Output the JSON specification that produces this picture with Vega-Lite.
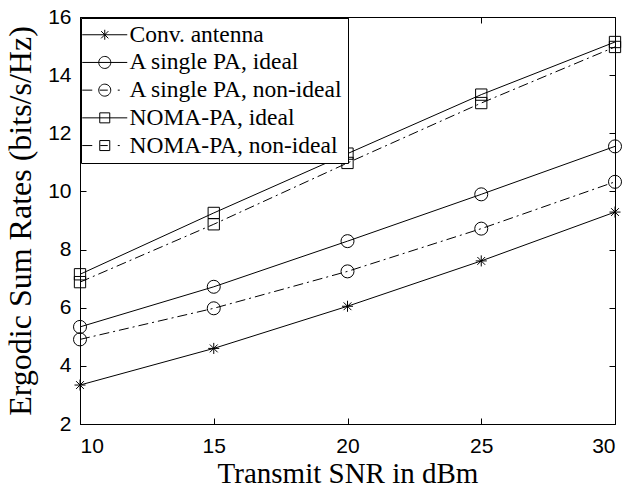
{
  "$schema": "https://vega.github.io/schema/vega-lite/v6.json",
  "width": 535,
  "height": 407,
  "autosize": {"type": "none"},
  "padding": {"left": 80, "top": 17, "right": 22, "bottom": 65},
  "background": "white",
  "config": {
    "view": {"stroke": "black", "strokeWidth": 1},
    "axis": {
      "domainColor": "black",
      "tickColor": "black",
      "labelColor": "black",
      "titleColor": "black",
      "grid": false,
      "labelFont": "Liberation Sans",
      "labelFontSize": 21,
      "titleFont": "Liberation Serif",
      "titleFontSize": 29,
      "titleFontWeight": "normal",
      "tickSize": -6,
      "tickWidth": 1
    }
  },
  "data": {
    "values": [
      {"snr": 10, "rate": 3.34, "series": "Conv. antenna"},
      {"snr": 15, "rate": 4.6, "series": "Conv. antenna"},
      {"snr": 20, "rate": 6.05, "series": "Conv. antenna"},
      {"snr": 25, "rate": 7.61, "series": "Conv. antenna"},
      {"snr": 30, "rate": 9.29, "series": "Conv. antenna"},
      {"snr": 10, "rate": 5.34, "series": "A single PA, ideal"},
      {"snr": 15, "rate": 6.72, "series": "A single PA, ideal"},
      {"snr": 20, "rate": 8.29, "series": "A single PA, ideal"},
      {"snr": 25, "rate": 9.9, "series": "A single PA, ideal"},
      {"snr": 30, "rate": 11.55, "series": "A single PA, ideal"},
      {"snr": 10, "rate": 4.91, "series": "A single PA, non-ideal"},
      {"snr": 15, "rate": 5.98, "series": "A single PA, non-ideal"},
      {"snr": 20, "rate": 7.25, "series": "A single PA, non-ideal"},
      {"snr": 25, "rate": 8.72, "series": "A single PA, non-ideal"},
      {"snr": 30, "rate": 10.33, "series": "A single PA, non-ideal"},
      {"snr": 10, "rate": 7.15, "series": "NOMA-PA, ideal"},
      {"snr": 15, "rate": 9.26, "series": "NOMA-PA, ideal"},
      {"snr": 20, "rate": 11.3, "series": "NOMA-PA, ideal"},
      {"snr": 25, "rate": 13.33, "series": "NOMA-PA, ideal"},
      {"snr": 30, "rate": 15.14, "series": "NOMA-PA, ideal"},
      {"snr": 10, "rate": 6.88, "series": "NOMA-PA, non-ideal"},
      {"snr": 15, "rate": 8.87, "series": "NOMA-PA, non-ideal"},
      {"snr": 20, "rate": 10.98, "series": "NOMA-PA, non-ideal"},
      {"snr": 25, "rate": 13.04, "series": "NOMA-PA, non-ideal"},
      {"snr": 30, "rate": 14.97, "series": "NOMA-PA, non-ideal"}
    ]
  },
  "resolve": {"axis": {"x": "independent", "y": "independent"}},
  "layer": [
    {
      "layer": [
        {
          "transform": [{"filter": "indexof(datum.series, 'non-ideal') < 0"}],
          "mark": {"type": "line", "color": "black", "strokeWidth": 1},
          "encoding": {
            "x": {"field": "snr", "type": "quantitative", "scale": {"domain": [10, 30], "nice": false, "zero": false},
              "axis": {"orient": "bottom", "values": [10, 15, 20, 25, 30], "title": "Transmit SNR in dBm", "labelPadding": 17, "titlePadding": 3}},
            "y": {"field": "rate", "type": "quantitative", "scale": {"domain": [2, 16], "nice": false, "zero": false},
              "axis": {"orient": "left", "values": [2, 4, 6, 8, 10, 12, 14, 16], "title": "Ergodic Sum Rates (bits/s/Hz)", "titleFontSize": 32, "labelPadding": 15, "titlePadding": 10}},
            "detail": {"field": "series"}
          }
        },
        {
          "transform": [{"filter": "indexof(datum.series, 'non-ideal') >= 0"}],
          "mark": {"type": "line", "color": "black", "strokeWidth": 1, "strokeDash": [10, 4, 2, 4]},
          "encoding": {
            "x": {"field": "snr", "type": "quantitative"},
            "y": {"field": "rate", "type": "quantitative"},
            "detail": {"field": "series"}
          }
        },
        {
          "transform": [{"filter": "datum.series === 'Conv. antenna'"}],
          "mark": {"type": "point", "filled": false, "color": "black", "strokeWidth": 1, "opacity": 1, "size": 169,
            "shape": "M-0.85,0L0.85,0M0,-0.85L0,0.85M-0.6,-0.6L0.6,0.6M-0.6,0.6L0.6,-0.6"},
          "encoding": {
            "x": {"field": "snr", "type": "quantitative"},
            "y": {"field": "rate", "type": "quantitative"}
          }
        },
        {
          "transform": [{"filter": "indexof(datum.series, 'single') >= 0"}],
          "mark": {"type": "point", "filled": false, "color": "black", "strokeWidth": 1, "opacity": 1, "size": 169, "shape": "circle"},
          "encoding": {
            "x": {"field": "snr", "type": "quantitative"},
            "y": {"field": "rate", "type": "quantitative"}
          }
        },
        {
          "transform": [{"filter": "indexof(datum.series, 'NOMA') >= 0"}],
          "mark": {"type": "point", "filled": false, "color": "black", "strokeWidth": 1, "opacity": 1, "size": 169,
            "shape": "M-0.87,-0.87L0.87,-0.87L0.87,0.87L-0.87,0.87Z"},
          "encoding": {
            "x": {"field": "snr", "type": "quantitative"},
            "y": {"field": "rate", "type": "quantitative"}
          }
        },
        {
          "transform": [{"filter": "datum.snr > 100"}],
          "mark": {"type": "point", "filled": false, "color": "black", "strokeWidth": 1, "opacity": 1},
          "encoding": {
            "x": {"field": "snr", "type": "quantitative"},
            "y": {"field": "rate", "type": "quantitative"},
            "shape": {
              "field": "series",
              "title": null,
              "scale": {
                "domain": ["Conv. antenna", "A single PA, ideal", "A single PA, non-ideal", "NOMA-PA, ideal", "NOMA-PA, non-ideal"],
                "range": [
                  "M-2.25,0L2.25,0M0,-0.5L0,0.5M-0.36,-0.36L0.36,0.36M-0.36,0.36L0.36,-0.36",
                  "M-2.25,0L2.25,0M-0.6,0A0.6,0.6,0,1,0,0.6,0A0.6,0.6,0,1,0,-0.6,0",
                  "M-2.25,0L-1.25,0M-0.5,0L0.3,0M1.3,0L1.5,0M-0.6,0A0.6,0.6,0,1,0,0.6,0A0.6,0.6,0,1,0,-0.6,0",
                  "M-2.25,0L2.25,0M-0.5,-0.5L0.5,-0.5L0.5,0.5L-0.5,0.5Z",
                  "M-2.25,0L-1.25,0M-0.45,0L0.3,0M1.3,0L1.5,0M-0.5,-0.5L0.5,-0.5L0.5,0.5L-0.5,0.5Z"
                ]
              },
              "legend": {
                "orient": "none",
                "legendX": 1,
                "legendY": 1,
                "padding": 5,
                "strokeColor": "black",
                "fillColor": "white",
                "labelFont": "Liberation Serif",
                "labelFontSize": 23.5,
                "labelColor": "black",
                "labelLimit": 400,
                "labelOffset": 13,
                "symbolOffset": 7,
                "symbolSize": 400,
                "symbolStrokeWidth": 1,
                "symbolStrokeColor": "black",
                "symbolFillColor": "transparent",
                "rowPadding": 2.7
              }
            }
          }
        }
      ]
    },
    {
      "mark": {"type": "point", "opacity": 0},
      "encoding": {
        "x": {"field": "snr", "type": "quantitative",
          "axis": {"orient": "top", "values": [10, 15, 20, 25, 30], "labels": false, "title": null, "domain": false}},
        "y": {"field": "rate", "type": "quantitative",
          "axis": {"orient": "right", "values": [2, 4, 6, 8, 10, 12, 14, 16], "labels": false, "title": null, "domain": false}}
      }
    }
  ]
}
